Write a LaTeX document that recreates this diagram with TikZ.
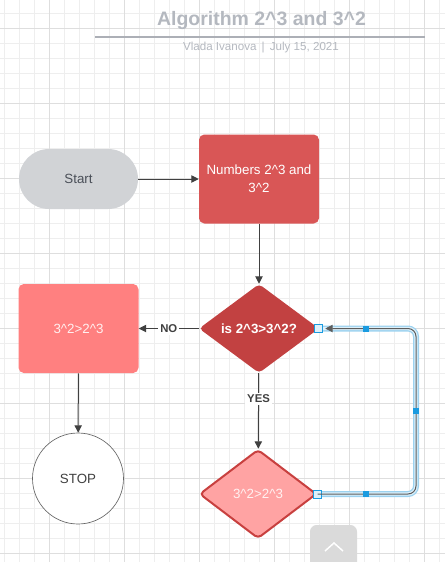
\documentclass[tikz,border=0pt]{standalone}
\usepackage{fontspec}
\setmainfont{Liberation Sans}
\usetikzlibrary{shapes.geometric,arrows.meta}
\definecolor{gridminor}{HTML}{EEEEEE}
\definecolor{gridmajor}{HTML}{DEDEDE}
\definecolor{titlegray}{HTML}{B4B8BF}
\definecolor{startgray}{HTML}{D1D3D6}
\definecolor{starttext}{HTML}{4A4F58}
\definecolor{numred}{HTML}{D95656}
\definecolor{checkred}{HTML}{C24141}
\definecolor{resultred}{HTML}{FF8080}
\definecolor{altpink}{HTML}{FFA3A3}
\definecolor{altborder}{HTML}{C8403F}
\definecolor{arrowgray}{HTML}{404040}
\definecolor{selblue}{HTML}{9CD2EF}
\definecolor{selpale}{HTML}{DDF0FA}
\definecolor{selhandle}{HTML}{1A9BE0}
\definecolor{scrollgray}{HTML}{DADADA}

\begin{document}
\begin{tikzpicture}[x=0.75pt,y=-0.75pt,
    every node/.style={font=\fontsize{10}{13.5}\selectfont},
    flow/.style={draw=arrowgray,line width=0.75pt,-{Triangle[length=5.5pt,width=5.5pt]}},
    box/.style={rectangle,rounded corners=4pt,minimum width=90pt,minimum height=66.75pt,inner sep=0pt},
    decision/.style={diamond,minimum width=90pt,minimum height=66.75pt,inner sep=0pt,rounded corners=3pt},
    lbl/.style={fill=white,inner sep=1.5pt,text=arrowgray,font=\fontsize{8.5}{10}\selectfont\bfseries},
    handle/.style={fill=selhandle,minimum size=4.5pt,inner sep=0pt},
    endhandle/.style={draw=selhandle,fill=selpale,line width=0.6pt,minimum size=6pt,inner sep=0pt}]
  \useasboundingbox (0,0) rectangle (445,562);
  % grid
  \foreach \k in {0,...,29} \draw[gridminor,line width=0.75pt] (4+15*\k,0) -- (4+15*\k,562);
  \foreach \k in {0,...,36} \draw[gridminor,line width=0.75pt] (0,13+15*\k) -- (445,13+15*\k);
  \foreach \k in {0,...,5} \draw[gridmajor,line width=0.75pt] (49+75*\k,0) -- (49+75*\k,562);
  \foreach \k in {0,...,7} \draw[gridmajor,line width=0.75pt] (0,28+75*\k) -- (445,28+75*\k);

  % title
  \node[text=titlegray,font=\fontsize{14.6}{16}\selectfont\bfseries] (title) at (261.5,21) {Algorithm 2\^{}3 and 3\^{}2};
  \draw[titlegray!85!gray,line width=1.5pt] (95,36.7) -- (425,36.7);
  \node[text=titlegray,font=\fontsize{8.7}{10}\selectfont] (subtitle) at (261,48) {Vlada Ivanova \,|\,  July 15, 2021};

  % shapes
  \node[box,rounded corners=22.5pt,fill=startgray,text=starttext,minimum width=89.25pt,minimum height=45pt] (start) at (78.5,179) {Start};
  \node[box,fill=numred,text=white,align=center] (numbers) at (259,179) {Numbers 2\^{}3 and\\3\^{}2};
  \node[decision,fill=checkred,text=white,font=\fontsize{10}{12}\selectfont\bfseries] (check) at (259,328.5) {is 2\^{}3>3\^{}2?};
  \node[box,fill=resultred,text=white!88!resultred] (result) at (78.5,328.5) {3\^{}2>2\^{}3};
  \node[circle,draw=arrowgray!80,line width=0.5pt,fill=white,minimum size=68.25pt,text=arrowgray] (stop) at (78,478.5) {STOP};
  \node[decision,minimum width=87.75pt,fill=altpink,draw=altborder,line width=1.5pt,text=white!85!altpink] (alt) at (258,494) {3\^{}2>2\^{}3};
  \coordinate (loopright) at (416,411);
  \coordinate (looptip) at ([xshift=4.5pt]check.east);

  % connectors
  \draw[flow] (start) -- (numbers);
  \draw[flow] (numbers) -- (check);
  \draw[flow] (check) -- node[lbl] {NO} (result);
  \draw[flow] (result) -- (stop);
  \draw[flow] (check) -- node[lbl,pos=0.34] {YES} (alt);
  \foreach \w/\c in {4.5pt/selblue,2.6pt/selpale}
    \draw[line width=\w,\c,rounded corners=6pt] (alt.east) -| (loopright) |- (check.east);
  \node[endhandle] (e1) at (alt.east) {};
  \node[endhandle] (e2) at ([xshift=-1pt]check.east) {};
  \draw[flow,draw=arrowgray!85,rounded corners=6pt] (alt.east) -| (loopright) |- (looptip);
  \node[handle] (h1) at (366,328.5) {};
  \node[handle] (h2) at (loopright) {};
  \node[handle] (h3) at (366,494) {};

  % scroll button
  \fill[scrollgray,rounded corners=5pt] (310,525) rectangle (357,575);
  \draw[white,line width=1.1pt] (325,551) -- (334,543) -- (343,551);
\end{tikzpicture}
\end{document}
